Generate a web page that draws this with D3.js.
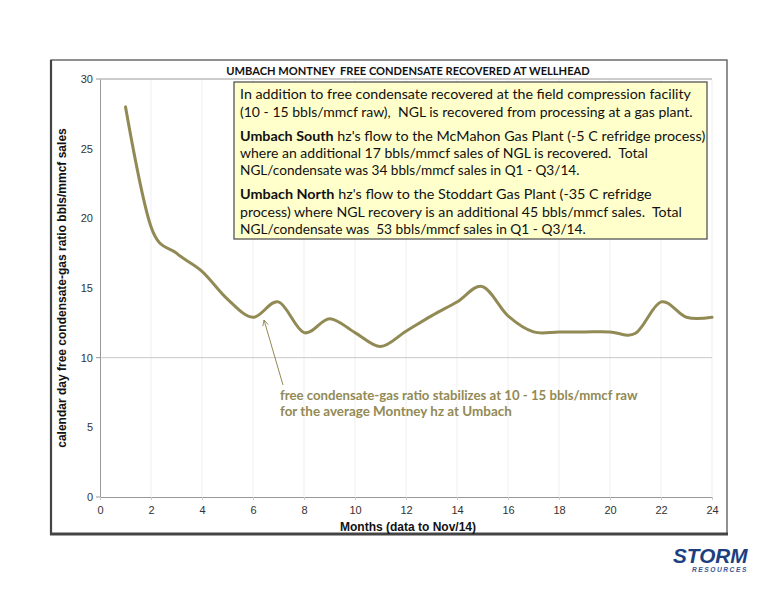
<!DOCTYPE html>
<html><head><meta charset="utf-8">
<script src="https://cdn.jsdelivr.net/npm/d3@7"></script>
<style>body{margin:0;background:#fff}</style>
</head><body>
<svg id="c" width="776" height="600" xmlns="http://www.w3.org/2000/svg"></svg>
<script>
// ---- data ----
const months = [1,2,3,4,5,6,7,8,9,10,11,12,13,14,15,16,17,18,19,20,21,22,23,24];
const ratio  = [28.0,19.4,17.5,16.2,14.2,12.9,14.0,11.8,12.8,11.8,10.8,11.9,13.0,14.0,15.1,13.0,11.85,11.85,11.85,11.85,11.75,14.0,12.9,12.9];
const xTicks = [0,2,4,6,8,10,12,14,16,18,20,22,24];
const yTicks = [0,5,10,15,20,25,30];
const yGrid  = [10,30];
const title  = "UMBACH MONTNEY  FREE CONDENSATE RECOVERED AT WELLHEAD";
const xTitle = "Months (data to Nov/14)";
const yTitle = "calendar day free condensate-gas ratio bbls/mmcf sales";
const noteLines = [
  [["In addition to free condensate recovered at the field compression facility",false]],
  [["(10 - 15 bbls/mmcf raw),  NGL is recovered from processing at a gas plant.",false]],
  [["Umbach South",true],[" hz's flow to the McMahon Gas Plant (-5 C refridge process)",false]],
  [["where an additional 17 bbls/mmcf sales of NGL is recovered.  Total",false]],
  [["NGL/condensate was 34 bbls/mmcf sales in Q1 - Q3/14.",false]],
  [["Umbach North",true],[" hz's flow to the Stoddart Gas Plant (-35 C refridge",false]],
  [["process) where NGL recovery is an additional 45 bbls/mmcf sales.  Total",false]],
  [["NGL/condensate was  53 bbls/mmcf sales in Q1 - Q3/14.",false]]
];
const calloutLines = ["free condensate-gas ratio stabilizes at 10 - 15 bbls/mmcf raw","for the average Montney hz at Umbach"];

// ---- layout ----
const svg = d3.select("#c");
const L = 100, R = 712, T = 79, B = 497;
const x = d3.scaleLinear().domain([0,24]).range([L,R]);
const y = d3.scaleLinear().domain([0,30]).range([B,T]);
const olive = "#928a55";

function fit(sel, w) {
  sel.each(function(){
    const bw = this.getBBox().width;
    const s = w / bw;
    const tx = +this.getAttribute("data-x"), ty = +this.getAttribute("data-y");
    const anchor = this.getAttribute("text-anchor");
    this.setAttribute("transform", `translate(${tx},${ty}) scale(${s},1)`);
  });
}

// frame
svg.append("rect").attr("x",51).attr("y",60).attr("width",676).attr("height",474)
  .attr("fill","#fff").attr("stroke","#555").attr("stroke-width",1.3);
svg.append("line").attr("x1",51).attr("x2",51).attr("y1",60).attr("y2",535).attr("stroke","#444").attr("stroke-width",2.2);
svg.append("line").attr("x1",50).attr("x2",728).attr("y1",534).attr("y2",534).attr("stroke","#444").attr("stroke-width",3);

// vertical faint gridlines
svg.append("g").selectAll("line").data(xTicks.slice(1)).join("line")
  .attr("x1",d=>x(d)).attr("x2",d=>x(d)).attr("y1",T).attr("y2",B)
  .attr("stroke","#efefef").attr("stroke-width",1);
// horizontal gridlines
svg.append("g").selectAll("line").data(yGrid).join("line")
  .attr("x1",L).attr("x2",R).attr("y1",d=>y(d)).attr("y2",d=>y(d))
  .attr("stroke",d=>d===30?"#999":"#c8c8c8").attr("stroke-width",1);

// axes
const yAxis = svg.append("g").attr("transform",`translate(${L},0)`)
  .call(d3.axisLeft(y).tickValues(yTicks).tickSize(0).tickPadding(7));
yAxis.select(".domain").attr("stroke","#999");
yAxis.selectAll("text").attr("font-family","Liberation Sans, Arial").attr("font-size",11).attr("fill","#333");
svg.append("g").selectAll("line").data([0,10,30]).join("line")
  .attr("x1",L-4).attr("x2",L).attr("y1",d=>y(d)).attr("y2",d=>y(d)).attr("stroke","#999");

const xAxis = svg.append("g").attr("transform",`translate(0,${B})`)
  .call(d3.axisBottom(x).tickValues(xTicks).tickSize(3).tickPadding(6));
xAxis.select(".domain").attr("stroke","#999");
xAxis.selectAll(".tick line").attr("stroke","#ccc");
xAxis.selectAll("text").attr("font-family","Liberation Sans, Arial").attr("font-size",11).attr("fill","#333");

// title
svg.append("text").attr("data-x",408).attr("data-y",75).attr("text-anchor","middle")
  .style("white-space","pre").attr("font-family","Lato, Open Sans").attr("font-weight","bold")
  .attr("font-size",12).attr("fill","#111").text(title).call(fit,364);

// axis titles
svg.append("text").attr("text-anchor","middle").attr("transform","translate(66,288) rotate(-90)")
  .attr("font-family","Liberation Sans, Arial").attr("font-weight","bold").attr("font-size",12)
  .attr("fill","#111").text(yTitle);
svg.append("text").attr("text-anchor","middle").attr("x",408).attr("y",531)
  .attr("font-family","Liberation Sans, Arial").attr("font-weight","bold").attr("font-size",12)
  .attr("fill","#111").text(xTitle);

// line
const line = d3.line().x((d,i)=>x(months[i])).y(d=>y(d)).curve(d3.curveCardinal.tension(0));
svg.append("path").datum(ratio).attr("d",line).attr("fill","none")
  .attr("stroke",olive).attr("stroke-width",3).attr("stroke-linejoin","round").attr("stroke-linecap","round");

// note box
svg.append("rect").attr("x",234).attr("y",82).attr("width",473).attr("height",157)
  .attr("fill","#ffffcc").attr("stroke","#555").attr("stroke-width",1.3);
const noteY = [99,117,141,158,175,199,217,234];
const noteW = [452,453,466,408,340,412,442,346];
noteLines.forEach((ln,i)=>{
  const t = svg.append("text").attr("data-x",240).attr("data-y",noteY[i])
    .style("white-space","pre").attr("font-family","Lato, Open Sans").attr("font-size",14).attr("fill","#111");
  ln.forEach(([s,b])=>t.append("tspan").attr("font-weight",b?"bold":"normal").text(s));
  t.call(fit,noteW[i]);
});

// callout
const defs = svg.append("defs");
defs.append("marker").attr("id","ah").attr("viewBox","0 0 10 10").attr("refX",9).attr("refY",5)
  .attr("markerWidth",7).attr("markerHeight",7).attr("orient","auto")
  .append("path").attr("d","M1,1 L9,5 L1,9").attr("fill","none").attr("stroke",olive).attr("stroke-width",1.2);
svg.append("line").attr("x1",283).attr("y1",385).attr("x2",264).attr("y2",320)
  .attr("stroke",olive).attr("stroke-width",1).attr("marker-end","url(#ah)");
const callY = [400,416], callW = [358,232];
calloutLines.forEach((s,i)=>{
  svg.append("text").attr("data-x",280).attr("data-y",callY[i]).style("white-space","pre")
    .attr("font-family","Lato, Open Sans").attr("font-weight","bold").attr("font-size",13.5)
    .attr("fill",olive).text(s).call(fit,callW[i]);
});

// logo
svg.append("text").attr("data-x",673).attr("data-y",563).attr("font-family","Liberation Sans, Arial")
  .attr("font-weight","bold").attr("font-style","italic").attr("font-size",20).attr("fill","#1d3f80")
  .text("STORM").call(fit,76);
svg.append("text").attr("data-x",692).attr("data-y",572).attr("font-family","Liberation Sans, Arial")
  .attr("font-weight","bold").attr("font-style","italic").attr("font-size",6.5).attr("fill","#3a5590")
  .attr("letter-spacing",1.5).text("RESOURCES").call(fit,56);
</script>
</body></html>
